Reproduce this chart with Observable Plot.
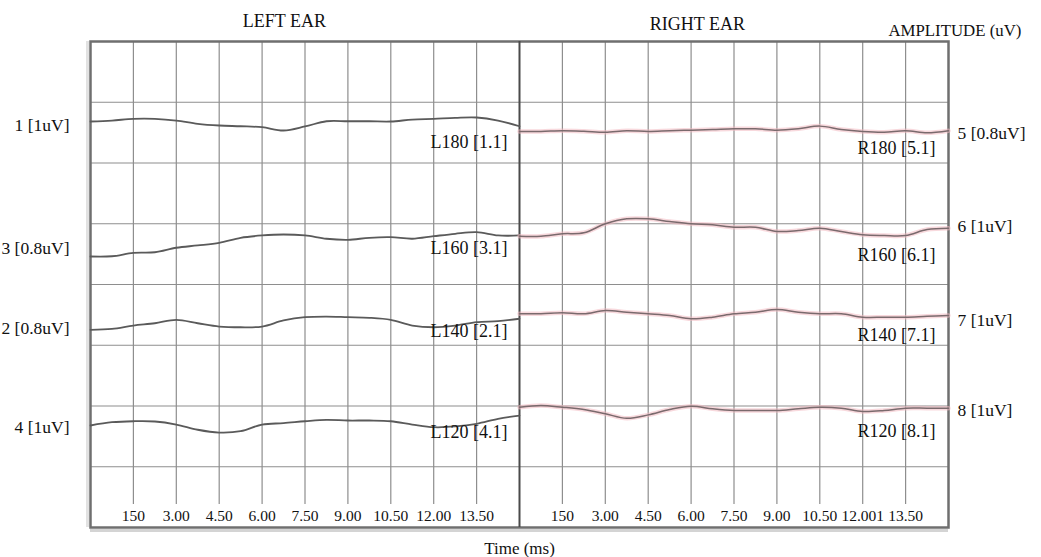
<!DOCTYPE html>
<html>
<head>
<meta charset="utf-8">
<script src="https://cdn.jsdelivr.net/npm/d3@7"></script>
<script src="https://cdn.jsdelivr.net/npm/@observablehq/plot@0.6"></script>
<style>
  html, body { margin: 0; padding: 0; background: #ffffff; }
  #chart svg { display: block; }
</style>
</head>
<body>
<div id="chart"></div>
<script>
// ---------- data ----------
// sample times within one ear window (ms)
const times = [0, 0.75, 1.5, 2.25, 3, 3.75, 4.5, 5.25, 6, 6.75, 7.5, 8.25, 9, 9.75, 10.5, 11.25, 12, 12.75, 13.5, 14.25, 15];

// tick positions (ms) and printed tick labels of each ear window
const tickTimes = [1.5, 3, 4.5, 6, 7.5, 9, 10.5, 12, 13.5];
const leftTickLabels = ["150", "3.00", "4.50", "6.00", "7.50", "9.00", "10.50", "12.00", "13.50"];
const rightTickLabels = ["150", "3.00", "4.50", "6.00", "7.50", "9.00", "10.50", "12.001", "13.50"];

// amplitudes (uV) relative to each channel's baseline
const ch1 = [0, 0.08, 0.22, 0.22, 0.08, -0.19, -0.33, -0.39, -0.47, -0.74, -0.41, 0.02, 0.02, 0.02, 0, 0.16, 0.22, 0.30, 0.33, 0.08, -0.39];
const ch3 = [0, 0.02, 0.30, 0.35, 0.72, 0.91, 1.13, 1.54, 1.73, 1.81, 1.73, 1.46, 1.37, 1.54, 1.59, 1.46, 1.67, 1.87, 2.00, 1.73, 1.73];
const ch2 = [0, 0.08, 0.35, 0.54, 0.82, 0.54, 0.27, 0.21, 0.27, 0.77, 1.04, 1.09, 1.04, 0.99, 0.82, 0.35, 0.21, 0.35, 0.63, 0.71, 0.91];
const ch4 = [0, 0.27, 0.35, 0.33, 0.08, -0.35, -0.58, -0.47, 0.08, 0.19, 0.35, 0.47, 0.41, 0.41, 0.35, 0.08, -0.14, -0.08, 0.14, 0.55, 0.82];
const ch5 = [0, 0, 0.06, 0.02, -0.06, 0.06, 0, 0.06, 0.11, 0.16, 0.22, 0.22, 0.11, 0.22, 0.44, 0.16, 0, -0.06, 0.06, -0.11, 0.06];
const ch6 = [0, 0, 0.20, 0.28, 1.02, 1.43, 1.43, 1.21, 1.02, 0.94, 0.74, 0.74, 0.39, 0.47, 0.66, 0.39, 0.12, 0.06, 0.06, 0.55, 0.66];
const ch7 = [0, 0, 0.08, 0, 0.27, 0.13, 0, -0.14, -0.41, -0.28, 0, 0.13, 0.35, 0.13, 0, 0, -0.28, -0.28, -0.28, -0.20, -0.14];
const ch8 = [0, 0.14, 0, -0.19, -0.54, -0.91, -0.63, -0.19, 0.08, -0.13, -0.27, -0.27, -0.27, -0.13, 0, -0.08, -0.35, -0.27, -0.08, -0.08, -0.08];

// channel names and label texts
const channelIds = ["1", "3", "2", "4", "5", "6", "7", "8"];
const channelEars = ["L", "L", "L", "L", "R", "R", "R", "R"];
const channelScaleLabels = ["1 [1uV]", "3 [0.8uV]", "2 [0.8uV]", "4 [1uV]", "5 [0.8uV]", "6 [1uV]", "7 [1uV]", "8 [1uV]"];
const channelTraceLabels = ["L180 [1.1]", "L160 [3.1]", "L140 [2.1]", "L120 [4.1]", "R180 [5.1]", "R160 [6.1]", "R140 [7.1]", "R120 [8.1]"];
const channelAmps = [ch1, ch3, ch2, ch4, ch5, ch6, ch7, ch8];

// ---------- layout (not data) ----------
const UV_PER_DIV = 5;            // vertical gain: uV per grid division
const WINDOW = 15;               // ms per ear window
const ROWS = 8;                  // grid divisions vertically
const ROW_PX = (557 - 41 - 30) / ROWS;
// baseline of each channel in grid divisions from the top
const baseRow = [1.317, 3.539, 4.746, 6.321, 1.481, 3.205, 4.482, 6.020];
// vertical nudges (px) of the outer scale labels and inner trace labels
const scaleLabelDy = [4, -8, -1, 2, 2, -10, 7, 3];
const traceLabelDy = [21, -8, 1, 7, 17, 19, 21, 24];

// ---------- build tables ----------
const traces = [];
channelAmps.forEach((amps, c) => {
  const off = channelEars[c] === "L" ? 0 : WINDOW;
  amps.forEach((a, i) => {
    traces.push({ch: channelIds[c], ear: channelEars[c], x: off + times[i], y: baseRow[c] - a / UV_PER_DIV});
  });
});
const leftTraces = traces.filter(d => d.ear === "L");
const rightTraces = traces.filter(d => d.ear === "R");

const channels = channelIds.map((id, c) => ({
  id, ear: channelEars[c], scale: channelScaleLabels[c], trace: channelTraceLabels[c],
  yScale: baseRow[c] + scaleLabelDy[c] / ROW_PX,
  yTrace: baseRow[c] + traceLabelDy[c] / ROW_PX
}));

const ticks = [
  ...tickTimes.map((t, i) => ({x: t, label: leftTickLabels[i]})),
  ...tickTimes.map((t, i) => ({x: WINDOW + t, label: rightTickLabels[i]}))
];
const gridX = ticks.map(d => d.x);
const gridY = d3.range(1, ROWS);

const font = "Liberation Serif, Times New Roman, serif";
const gridColor = "#8e8e8e";

const chart = Plot.plot({
  width: 1041,
  height: 557,
  marginLeft: 90,
  marginRight: 93,
  marginTop: 41,
  marginBottom: 30,
  style: {fontFamily: font, background: "#ffffff", color: "#111"},
  x: {domain: [0, 2 * WINDOW], axis: null},
  y: {domain: [0, ROWS], reverse: true, axis: null},
  marks: [
    // shadow of the frame
    Plot.ruleY([ROWS], {x1: 0, x2: 2 * WINDOW, dy: 3, stroke: "#d4d4d4", strokeWidth: 3}),
    Plot.ruleX([0], {y1: 0, y2: ROWS, dx: -3, stroke: "#e2e2e2", strokeWidth: 3}),
    // grid
    Plot.ruleY(gridY, {x1: 0, x2: 2 * WINDOW, stroke: gridColor, strokeWidth: 1.2}),
    Plot.ruleX(gridX, {y1: 0, y2: 7.62, stroke: gridColor, strokeWidth: 1.2}),
    // frame and divider
    Plot.frame({stroke: "#6f6f6f", strokeWidth: 2.5}),
    Plot.ruleX([WINDOW], {y1: 0, y2: ROWS, stroke: "#4a4a4a", strokeWidth: 2}),
    // traces
    Plot.line(leftTraces, {x: "x", y: "y", z: "ch", stroke: "#5a5a5a", strokeWidth: 1.8, curve: "catmull-rom"}),
    Plot.line(rightTraces, {x: "x", y: "y", z: "ch", stroke: "#f3b9c1", strokeWidth: 4.5, strokeOpacity: 0.55, curve: "catmull-rom"}),
    Plot.line(rightTraces, {x: "x", y: "y", z: "ch", stroke: "#7a6a6d", strokeWidth: 1.5, curve: "catmull-rom"}),
    // tick labels inside the frame
    Plot.text(ticks, {x: "x", y: ROWS, text: "label", dy: -11, fontSize: 15.5, fill: "#111"}),
    // channel scale labels
    Plot.text(channels.filter(d => d.ear === "L"), {x: 0, y: "yScale", dx: -21, text: "scale", textAnchor: "end", fontSize: 17.5, fill: "#111"}),
    Plot.text(channels.filter(d => d.ear === "R"), {x: 2 * WINDOW, y: "yScale", dx: 9, text: "scale", textAnchor: "start", fontSize: 17.5, fill: "#111"}),
    // trace labels
    Plot.text(channels.filter(d => d.ear === "L"), {x: WINDOW, y: "yTrace", dx: -12, text: "trace", textAnchor: "end", fontSize: 18, fill: "#111"}),
    Plot.text(channels.filter(d => d.ear === "R"), {x: 2 * WINDOW, y: "yTrace", dx: -13, text: "trace", textAnchor: "end", fontSize: 18, fill: "#111"}),
    // titles
    Plot.text(["LEFT EAR"], {x: 6.78, y: 0, dy: -20, text: d => d, fontSize: 18, fill: "#111"}),
    Plot.text(["RIGHT EAR"], {x: 21.22, y: 0, dy: -17, text: d => d, fontSize: 18, fill: "#111"}),
    Plot.text(["AMPLITUDE (uV)"], {x: 2 * WINDOW, y: 0, dx: -60, dy: -11, text: d => d, textAnchor: "start", fontSize: 16.8, fill: "#111"}),
    Plot.text(["Time (ms)"], {x: WINDOW, y: ROWS, dy: 21, text: d => d, fontSize: 17, fill: "#111"})
  ]
});
document.getElementById("chart").appendChild(chart);
</script>
</body>
</html>
